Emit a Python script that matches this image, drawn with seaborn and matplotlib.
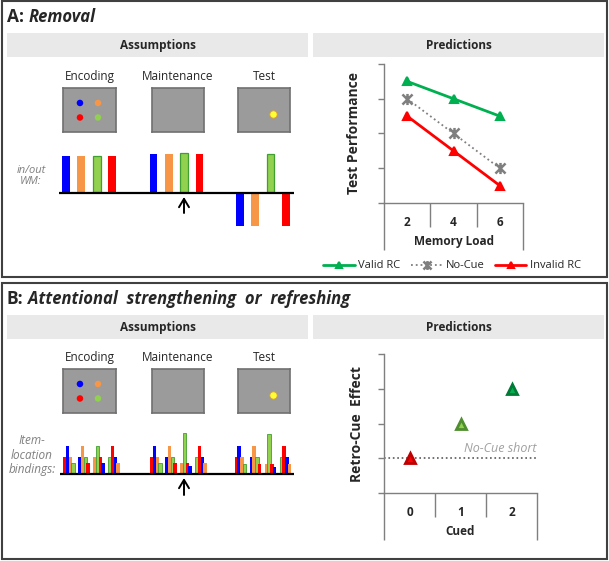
import pandas as pd
import seaborn as sns
import matplotlib.pyplot as plt
from matplotlib.patches import Rectangle
from matplotlib.path import Path

# ---------------- data ----------------
stages = ['Encoding', 'Maintenance', 'Test']
items = ['blue', 'orange', 'green', 'red']
item_colors = {'blue': '#0000ff', 'orange': '#f79646', 'green': '#92d050', 'red': '#ff0000'}

# item locations on the memory display (fraction of the screen)
dot_items = ['blue', 'orange', 'red', 'green']
dot_x = [0.32, 0.66, 0.32, 0.66]
dot_y = [0.66, 0.66, 0.33, 0.33]
probe_x = [0.67]
probe_y = [0.41]

# A: item in / out of WM at each stage
removal_enc = [1.0, 1.0, 1.0, 1.0]
removal_maint = [1.05, 1.05, 1.08, 1.05]
removal_test = [-0.95, -0.95, 1.06, -0.95]

# B: item-location binding strength (4 locations x 4 bindings)
bind_locs = ['L1', 'L2', 'L3', 'L4']
bind_slots = ['s1', 's2', 's3', 's4']
bind_items = [['red', 'blue', 'orange', 'green'],
              ['blue', 'orange', 'green', 'red'],
              ['orange', 'green', 'red', 'blue'],
              ['green', 'red', 'blue', 'orange']]
bind_enc = [[0.59, 1.0, 0.59, 0.37],
            [0.59, 1.0, 0.59, 0.37],
            [0.59, 1.0, 0.59, 0.37],
            [0.59, 1.0, 0.59, 0.37]]
bind_maint = [[0.59, 1.0, 0.59, 0.37],
              [0.59, 1.0, 0.59, 0.37],
              [0.37, 1.48, 0.37, 0.26],
              [0.59, 1.0, 0.59, 0.37]]
bind_test = [[0.59, 1.0, 0.59, 0.35],
             [0.59, 1.0, 0.59, 0.35],
             [0.35, 1.44, 0.35, 0.24],
             [0.59, 1.0, 0.59, 0.35]]

# A: predictions
load_levels = ['2', '4', '6']
conditions = ['Valid RC', 'No-Cue', 'Invalid RC']
valid_rc = [3.5, 3.0, 2.5]
no_cue = [3.0, 2.0, 1.0]
invalid_rc = [2.5, 1.5, 0.5]

# B: predictions
cued_levels = ['0', '1', '2']
rc_effect = [1.0, 2.0, 3.0]
no_cue_short = 1.0

# ---------------- style ----------------
sns.set_theme(style='white')
plt.rcParams['font.family'] = ['Open Sans', 'DejaVu Sans']

W, H = 609, 561
SPINE = '#7f7f7f'
fig = plt.figure(figsize=(W / 100, H / 100), dpi=100)
fig.patch.set_facecolor('white')


def px_axes(x0, y0, x1, y1, **kw):
    # axes from pixel box (top-left origin)
    return fig.add_axes([x0 / W, 1 - y1 / H, (x1 - x0) / W, (y1 - y0) / H], **kw)


bg = px_axes(0, 0, W, H)
bg.set_xlim(0, W)
bg.set_ylim(H, 0)
bg.set_axis_off()


def panel_frame(top, letter, title):
    bg.add_patch(Rectangle((2, top), 605, 276, fill=False, ec='#404040', lw=1.5))
    t = bg.text(7, top + 16, letter + ':', fontsize=12.5, fontweight='bold', va='center')
    bg.annotate(title, xy=(1, 0), xycoords=t, xytext=(3, 0), textcoords='offset points',
                va='bottom', ha='left', fontsize=12, fontweight='bold', fontstyle='italic')
    bg.add_patch(Rectangle((7, top + 32), 301, 24, fc='#e9e9e9', ec='none'))
    bg.add_patch(Rectangle((313, top + 32), 291, 24, fc='#e9e9e9', ec='none'))
    bg.text(157.5, top + 44, 'Assumptions', fontsize=8.5, fontweight='bold', ha='center', va='center')
    bg.text(458.5, top + 44, 'Predictions', fontsize=8.5, fontweight='bold', ha='center', va='center')


def screens(dy):
    boxes = [(63, 116), (152, 204), (238, 290)]
    for k, (name, (x0, x1)) in enumerate(zip(stages, boxes)):
        bg.text((x0 + x1) / 2, 76 + dy, name, fontsize=8.5, ha='center', va='center')
        ax = px_axes(x0, 88 + dy, x1, 132 + dy)
        ax.set_facecolor('#9b9b9b')
        if k == 0:
            sns.scatterplot(x=dot_x, y=dot_y, hue=dot_items, palette=item_colors, s=22,
                            edgecolor='none', legend=False, ax=ax)
        elif k == 2:
            sns.scatterplot(x=probe_x, y=probe_y, color='#ffff33', s=28,
                            edgecolor='#e0a030', linewidth=0.6, legend=False, ax=ax)
        ax.set_xlim(0, 1)
        ax.set_ylim(0, 1)
        ax.set_xticks([])
        ax.set_yticks([])
        ax.set_xlabel('')
        ax.set_ylabel('')
        for s in ax.spines.values():
            s.set_visible(True)
            s.set_color('#707070')
            s.set_linewidth(1.2)


# ---------------- panel A ----------------
panel_frame(1, 'A', 'Removal')
screens(0)
bg.text(31, 176, 'in/out\nWM:', fontsize=8, fontstyle='italic', color='#808080',
        ha='center', va='center', linespacing=1.0)

spans_a = [(58.3, 119.7), (146, 207.3), (232.2, 293.5)]
for (x0, x1), vals in zip(spans_a, [removal_enc, removal_maint, removal_test]):
    ax = px_axes(x0, 148, x1, 232)
    sns.barplot(x=items, y=vals, hue=items, palette=item_colors, width=0.5,
                saturation=1, errorbar=None, legend=False, linewidth=0,
                edgecolor='none', ax=ax)
    for p in ax.patches:
        if abs(p.get_facecolor()[1] - 0.816) < 0.01:
            p.set_edgecolor('#3f9f2f')
            p.set_linewidth(0.9)
    ax.set_xlim(-0.5, 3.5)
    ax.set_ylim(-40 / 36, 44 / 36)
    ax.set_axis_off()

# predictions A
axa = px_axes(384, 64, 523, 203)
dfa = pd.DataFrame({'load': load_levels * 3,
                    'perf': valid_rc + no_cue + invalid_rc,
                    'cond': [c for c in conditions for _ in load_levels]})
star = Path([(-1, -1), (1, 1), (-1, 1), (1, -1), (0, -1.1), (0, 1.1)],
            [Path.MOVETO, Path.LINETO, Path.MOVETO, Path.LINETO, Path.MOVETO, Path.LINETO])
sns.pointplot(data=dfa, x='load', y='perf', hue='cond', hue_order=conditions,
              palette=['#00b050', '#7f7f7f', '#ff0000'], markers=['^', star, '^'],
              linestyles=['-', ':', '-'], errorbar=None, legend=False,
              markersize=6, linewidth=2, ax=axa)
axa.lines[1].set_linewidth(1.3)
axa.lines[1].set_markersize(8)
axa.lines[1].set_markeredgewidth(1.8)


def style_pred(ax, n, ylabel, xlabel, ylab_x):
    sns.despine(ax=ax)
    ax.set_ylim(0, 4)
    ax.set_yticks(range(5))
    ax.set_yticklabels([])
    ax.set_xlim(-0.5, n - 0.5)
    ax.set_xlabel('')
    ax.set_ylabel('')
    ax.tick_params(axis='y', left=True, length=4, width=1, color=SPINE, direction='out')
    ax.tick_params(axis='x', length=0, pad=9, labelsize=8.5)
    for lab in ax.get_xticklabels():
        lab.set_fontweight('bold')
    for s in ['left', 'bottom']:
        ax.spines[s].set_color(SPINE)
        ax.spines[s].set_linewidth(1)
    tr = ax.get_xaxis_transform()
    ax.vlines([i + 0.5 for i in range(n - 1)], -0.17, 0, transform=tr, clip_on=False,
              color=SPINE, lw=1)
    ax.vlines([-0.5, n - 0.5], -0.335, 0, transform=tr, clip_on=False, color=SPINE, lw=1)
    ax.text(ylab_x, 0.5, ylabel, transform=ax.transAxes, rotation=90, ha='center',
            va='center', fontsize=10, fontweight='bold')
    ax.text(0.5, -0.28, xlabel, transform=ax.transAxes, ha='center', va='center',
            fontsize=8.5, fontweight='bold')


style_pred(axa, 3, 'Test Performance', 'Memory Load', -0.216)
axa.legend(handles=axa.lines[:3], labels=conditions, loc='center', bbox_to_anchor=(0.49, -0.453),
           ncol=3, frameon=False, fontsize=8, handlelength=2.8, columnspacing=1.0,
           handletextpad=0.3, markerscale=0.8)

# ---------------- panel B ----------------
panel_frame(283, 'B', 'Attentional  strengthening  or  refreshing')
screens(281)
bg.text(32, 455, 'Item-\nlocation\nbindings:', fontsize=8.5, fontstyle='italic', color='#808080',
        ha='center', va='center', linespacing=1.12)


def bind_frame(vals):
    rows = []
    for i, loc in enumerate(bind_locs):
        for j, slot in enumerate(bind_slots):
            rows.append({'loc': loc, 'slot': slot, 'h': vals[i][j]})
    return pd.DataFrame(rows)


spans_b = [(61.5, 121.5), (148.5, 208.5), (233, 293)]
for (x0, x1), vals in zip(spans_b, [bind_enc, bind_maint, bind_test]):
    ax = px_axes(x0, 425, x1, 478)
    sns.barplot(data=bind_frame(vals), x='loc', y='h', hue='slot', hue_order=bind_slots,
                palette=['#000000'] * 4, width=0.72, dodge=True, saturation=1,
                errorbar=None, legend=False, linewidth=0, edgecolor='none', ax=ax)
    for j, cont in enumerate(ax.containers):
        for bar in cont:
            i = int(round(bar.get_x() + bar.get_width() / 2))
            name = bind_items[i][j]
            bar.set_facecolor(item_colors[name])
            # slightly overlapping bars as in the original sketch
            w = bar.get_width()
            bar.set_x(bar.get_x() - 0.12 * w)
            bar.set_width(1.24 * w)
            if name == 'green':
                bar.set_edgecolor('#3f9f2f')
                bar.set_linewidth(0.6)
    ax.set_xlim(-0.5, 3.5)
    ax.set_ylim(-5 / 27, 48 / 27)
    ax.set_axis_off()

# predictions B
axb = px_axes(384, 354, 537, 493)
axb.axhline(no_cue_short, ls=':', color='#595959', lw=1.2, zorder=1)
sns.pointplot(x=cued_levels, y=rc_effect, hue=cued_levels,
              palette=['#ff0000', '#92d050', '#00b050'], markers='^', errorbar=None,
              legend=False, markersize=7, ax=axb)
for ln, ec in zip(axb.lines[1:], ['#c00000', '#4f8f2f', '#007a36']):
    ln.set_markeredgecolor(ec)
    ln.set_zorder(3)
style_pred(axb, 3, 'Retro-Cue  Effect', 'Cued', -0.176)
axb.text(2.5, no_cue_short + 0.27, 'No-Cue short', ha='right', va='center', fontsize=9,
         fontstyle='italic', color='#a0a0a0')

# ---------------- overlay: baselines and cue arrows ----------------
ov = px_axes(0, 0, W, H)
ov.set_xlim(0, W)
ov.set_ylim(H, 0)
ov.set_axis_off()
ov.patch.set_alpha(0)
ov.plot([59, 294], [192.5, 192.5], color='black', lw=1.6, solid_capstyle='butt')
ov.plot([60, 294], [473.5, 473.5], color='black', lw=1.6, solid_capstyle='butt')
for y0, y1 in [(197, 213), (478, 495)]:
    ov.annotate('', xy=(184, y0), xytext=(184, y1),
                arrowprops=dict(arrowstyle='->,head_length=0.5,head_width=0.3', lw=1.4,
                                color='black', shrinkA=0, shrinkB=0))

fig.savefig('out.png', dpi=100)
